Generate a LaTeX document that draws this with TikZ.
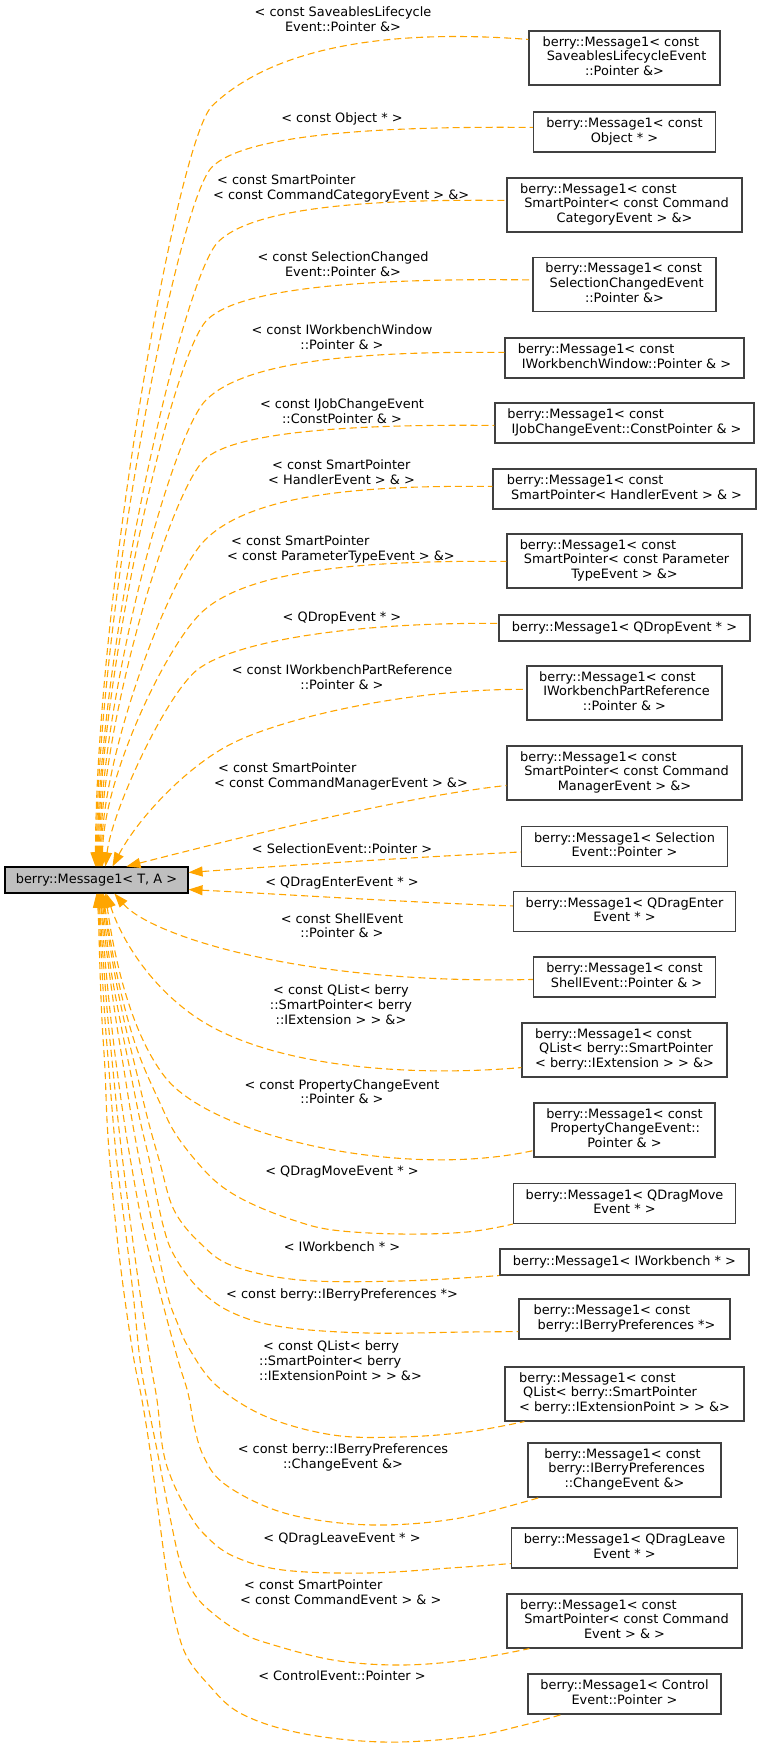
\documentclass[tikz,border=0pt]{standalone}
\usepackage{fontspec}
\setmainfont{DejaVu Sans}
\usetikzlibrary{arrows.meta}
\definecolor{edgeorange}{HTML}{FFA500}
\definecolor{boxgrey}{HTML}{404040}
\definecolor{mainfill}{HTML}{BFBFBF}
\newcommand\lcen[1]{\begin{tabular}{@{}c@{}}#1\end{tabular}}
\newcommand\lleft[1]{\begin{tabular}{@{}l@{}}#1\end{tabular}}
\newcommand\bxt[2]{\begin{tabular}{@{}l@{}}#1\\\multicolumn{1}{@{}c@{}}{#2}\end{tabular}}
\begin{document}
\begin{tikzpicture}[x=1pt,y=-1pt,font=\fontsize{12.9}{14.6}\selectfont,
  cls/.style={draw=boxgrey,line width=1.1pt,fill=white,inner sep=0pt},
  base/.style={draw=black,line width=1.1pt,fill=mainfill,inner sep=0pt},
  lbl/.style={inner sep=0pt},
  inh/.style={draw=edgeorange,line width=1.1pt,dash pattern=on 7pt off 4pt,arrows={Triangle[length=14pt,width=10pt]-}}]
\useasboundingbox (0,0) rectangle (757,1747);

% main node
\node[base,minimum width=183pt,minimum height=26pt] (m) at (96.5,880) {berry::Message1< T, A >};

% instances
\node[cls,minimum width=191pt,minimum height=54pt] (c1) at (624.5,58) {\bxt{berry::Message1< const\\\ SaveablesLifecycleEvent}{::Pointer \&>}};
\node[cls,minimum width=182pt,minimum height=40pt] (c2) at (624.5,132) {\bxt{berry::Message1< const}{Object * >}};
\node[cls,minimum width=235pt,minimum height=54pt] (c3) at (624.5,205) {\bxt{berry::Message1< const\\\ SmartPointer< const Command}{CategoryEvent > \&>}};
\node[cls,minimum width=183pt,minimum height=54pt] (c4) at (624.5,284.5) {\bxt{berry::Message1< const\\\ SelectionChangedEvent}{::Pointer \&>}};
\node[cls,minimum width=239pt,minimum height=40pt] (c5) at (624.5,358) {\bxt{berry::Message1< const}{\ IWorkbenchWindow::Pointer \& >}};
\node[cls,minimum width=259pt,minimum height=40pt] (c6) at (624.5,423) {\bxt{berry::Message1< const}{\ IJobChangeEvent::ConstPointer \& >}};
\node[cls,minimum width=263pt,minimum height=40pt] (c7) at (624.5,489) {\bxt{berry::Message1< const}{\ SmartPointer< HandlerEvent > \& >}};
\node[cls,minimum width=235pt,minimum height=54pt] (c8) at (624.5,561) {\bxt{berry::Message1< const\\\ SmartPointer< const Parameter}{TypeEvent > \&>}};
\node[cls,minimum width=251pt,minimum height=26pt] (c9) at (624.5,628) {berry::Message1< QDropEvent * >};
\node[cls,minimum width=195pt,minimum height=54pt] (c10) at (624.5,693) {\bxt{berry::Message1< const\\\ IWorkbenchPartReference}{::Pointer \& >}};
\node[cls,minimum width=235pt,minimum height=54pt] (c11) at (624.5,773) {\bxt{berry::Message1< const\\\ SmartPointer< const Command}{ManagerEvent > \&>}};
\node[cls,minimum width=206pt,minimum height=40pt] (c12) at (624.5,846.5) {\bxt{berry::Message1< Selection}{Event::Pointer >}};
\node[cls,minimum width=222pt,minimum height=40pt] (c13) at (624.5,911.5) {\bxt{berry::Message1< QDragEnter}{Event * >}};
\node[cls,minimum width=182pt,minimum height=40pt] (c14) at (624.5,977) {\bxt{berry::Message1< const}{\ ShellEvent::Pointer \& >}};
\node[cls,minimum width=205pt,minimum height=54pt] (c15) at (624.5,1050) {\bxt{berry::Message1< const\\\ QList< berry::SmartPointer}{< berry::IExtension > > \&>}};
\node[cls,minimum width=181pt,minimum height=54pt] (c16) at (624.5,1130) {\bxt{berry::Message1< const\\\ PropertyChangeEvent::}{Pointer \& >}};
\node[cls,minimum width=222pt,minimum height=40pt] (c17) at (624.5,1203.5) {\bxt{berry::Message1< QDragMove}{Event * >}};
\node[cls,minimum width=249pt,minimum height=26pt] (c18) at (624.5,1262) {berry::Message1< IWorkbench * >};
\node[cls,minimum width=211pt,minimum height=40pt] (c19) at (624.5,1319) {\bxt{berry::Message1< const}{\ berry::IBerryPreferences *>}};
\node[cls,minimum width=239pt,minimum height=54pt] (c20) at (624.5,1394) {\bxt{berry::Message1< const\\\ QList< berry::SmartPointer}{< berry::IExtensionPoint > > \&>}};
\node[cls,minimum width=193pt,minimum height=54pt] (c21) at (624.5,1470) {\bxt{berry::Message1< const\\\ berry::IBerryPreferences}{::ChangeEvent \&>}};
\node[cls,minimum width=226pt,minimum height=40pt] (c22) at (624.5,1548) {\bxt{berry::Message1< QDragLeave}{Event * >}};
\node[cls,minimum width=235pt,minimum height=54pt] (c23) at (624.5,1621) {\bxt{berry::Message1< const\\\ SmartPointer< const Command}{Event > \& >}};
\node[cls,minimum width=193pt,minimum height=40pt] (c24) at (624.5,1694) {\bxt{berry::Message1< Control}{Event::Pointer >}};

% top edges
\draw[inh] ([xshift=91pt]m.north west) .. controls (96,600) and (177,141) .. (212,106) .. controls (270,50) and (380,28) .. ([yshift=-9pt]c1.north west);
\draw[inh] ([xshift=92pt]m.north west) .. controls (97,622) and (177,202) .. (212,167) .. controls (245,134) and (382,126) .. ([yshift=-16pt]c2.north west);
\draw[inh] ([xshift=93pt]m.north west) .. controls (98,648) and (183,277) .. (218,242) .. controls (253,207) and (371,199) .. ([yshift=-23pt]c3.north west);
\draw[inh] ([xshift=94pt]m.north west) .. controls (99,676) and (172,355) .. (207,320) .. controls (241,286) and (380,278) .. ([yshift=-23pt]c4.north west);
\draw[inh] ([xshift=95pt]m.north west) .. controls (100,703) and (171,435) .. (206,400) .. controls (246,360) and (365,351) .. ([yshift=-15pt]c5.north west);
\draw[inh] ([xshift=96pt]m.north west) .. controls (101,724) and (169,495) .. (204,460) .. controls (233,431) and (358,424) .. ([yshift=-23pt]c6.north west);
\draw[inh] ([xshift=97pt]m.north west) .. controls (102,752) and (170,575) .. (205,540) .. controls (250,495) and (358,485) .. ([yshift=-18pt]c7.north west);
\draw[inh] ([xshift=98pt]m.north west) .. controls (103,778) and (165,649) .. (200,614) .. controls (244,570) and (363,560) .. ([yshift=-28pt]c8.north west);
\draw[inh] ([xshift=101pt]m.north west) .. controls (112,810) and (166,695) .. (197,670) .. controls (235,640) and (360,622) .. ([yshift=-9pt]c9.north west);
\draw[inh] ([xshift=108pt]m.north west) .. controls (140,815) and (190,764) .. (233,743) .. controls (290,715) and (420,688) .. ([yshift=-24pt]c10.north west);
\draw[inh] ([xshift=122pt]m.north west) .. controls (230,840) and (400,797) .. ([yshift=-40pt]c11.north west);
% side edges
\draw[inh] ([yshift=-6pt]m.north east) .. controls (280,866) and (400,858) .. ([yshift=-26pt]c12.north west);
\draw[inh] ([yshift=4pt]m.south east) .. controls (280,894) and (400,902) .. ([yshift=-15pt]c13.north west);
% bottom edges
\draw[inh] ([xshift=110pt]m.south west) .. controls (150,935) and (300,985) .. ([yshift=-23pt]c14.north west);
\draw[inh] ([xshift=102pt]m.south west) .. controls (120,935) and (145,980) .. (190,1013) .. controls (260,1065) and (400,1078) .. ([yshift=10pt]c15.south west);
\draw[inh] ([xshift=101pt]m.south west) .. controls (113,950) and (129,1031) .. (165,1077) .. controls (210,1135) and (400,1180) .. ([yshift=7pt]c16.south west);
\draw[inh] plot[smooth,tension=0.6] coordinates {([xshift=99pt]m.south west) (107,920) (116,970) (128,1020) (141,1060) (160,1103) (175,1133) (197,1162) (220,1185) (250,1203) (293,1220) (333,1230) (400,1234) (467,1232) (c17.south west)};
\draw[inh] plot[smooth,tension=0.6] coordinates {([xshift=98pt]m.south west) (106,920) (114,970) (124,1020) (136,1070) (148,1120) (160,1163) (174,1210) (200,1243) (233,1266) (300,1280) (400,1281) (c18.south west)};
\draw[inh] plot[smooth,tension=0.6] coordinates {([xshift=97pt]m.south west) (104.5,920) (111,970) (120,1020) (130,1070) (140,1120) (150,1163) (163,1225) (175,1257) (200,1290) (233,1313) (283,1327) (367,1333) (467,1332) ([yshift=8pt]c19.south west)};
\draw[inh] plot[smooth,tension=0.6] coordinates {([xshift=96pt]m.south west) (103,920) (109,970) (116,1020) (124,1070) (132,1120) (140,1163) (153,1227) (167,1293) (177,1322) (190,1350) (217,1386) (267,1417) (333,1435) (400,1437) (467,1432) ([xshift=20pt]c20.south west)};
\draw[inh] plot[smooth,tension=0.6] coordinates {([xshift=95pt]m.south west) (102,920) (106,970) (111,1020) (117,1070) (124,1120) (131,1163) (143,1227) (160,1293) (178,1360) (188,1393) (194,1425) (203,1455) (222,1482) (267,1507) (317,1520) (383,1525) (460,1518) ([xshift=12pt]c21.south west)};
\draw[inh] plot[smooth,tension=0.6] coordinates {([xshift=94pt]m.south west) (100.5,920) (104,970) (108,1020) (113,1070) (118,1120) (123,1163) (131,1227) (140,1293) (150,1360) (157,1400) (163,1450) (172,1480) (188,1512) (205,1535) (233,1556) (283,1570) (367,1573) (450,1568) ([yshift=5pt]c22.south west)};
\draw[inh] plot[smooth,tension=0.6] coordinates {([xshift=93pt]m.south west) (99.5,920) (102,970) (105,1020) (109,1070) (113,1120) (117,1163) (125,1227) (133,1293) (140,1360) (147,1400) (157,1450) (170,1517) (181,1565) (195,1595) (215,1615) (240,1632) (267,1643) (333,1660) (400,1665) (467,1660) ([xshift=23pt]c23.south west)};
\draw[inh] plot[smooth,tension=0.6] coordinates {([xshift=92pt]m.south west) (98.5,920) (100,970) (102,1020) (105,1070) (107,1120) (110,1163) (116,1227) (124,1293) (134,1360) (142,1400) (150,1450) (159,1517) (168,1583) (175,1620) (186,1655) (207,1683) (240,1713) (300,1733) (383,1742) (467,1737) (520,1726) ([xshift=34pt]c24.south west)};

% labels
\node[lbl] (l1) at (343,21) {\lcen{< const SaveablesLifecycle\\Event::Pointer \&>}};
\node[lbl] (l2) at (342,119.5) {\lcen{< const Object * >}};
\node[lbl,anchor=west] (l3) at (213,189) {\lleft{\hspace{4pt}< const SmartPointer\\< const CommandCategoryEvent > \&>}};
\node[lbl] (l4) at (343,266) {\lcen{< const SelectionChanged\\Event::Pointer \&>}};
\node[lbl] (l5) at (342,339) {\lcen{< const IWorkbenchWindow\\::Pointer \& >}};
\node[lbl] (l6) at (342,413) {\lcen{< const IJobChangeEvent\\::ConstPointer \& >}};
\node[lbl,anchor=west] (l7) at (268,474) {\lleft{\hspace{4pt}< const SmartPointer\\< HandlerEvent > \& >}};
\node[lbl,anchor=west] (l8) at (227,550) {\lleft{\hspace{4pt}< const SmartPointer\\< const ParameterTypeEvent > \&>}};
\node[lbl] (l9) at (342,618.5) {\lcen{< QDropEvent * >}};
\node[lbl] (l10) at (342,679) {\lcen{< const IWorkbenchPartReference\\::Pointer \& >}};
\node[lbl,anchor=west] (l11) at (214,777) {\lleft{\hspace{4pt}< const SmartPointer\\< const CommandManagerEvent > \&>}};
\node[lbl] (l12) at (342,850.5) {\lcen{< SelectionEvent::Pointer >}};
\node[lbl] (l13) at (342,883.5) {\lcen{< QDragEnterEvent * >}};
\node[lbl] (l14) at (342,927.5) {\lcen{< const ShellEvent\\::Pointer \& >}};
\node[lbl] (l15) at (341,1006.5) {\lcen{< const QList< berry\\::SmartPointer< berry\\::IExtension > > \&>}};
\node[lbl] (l16) at (342,1093.5) {\lcen{< const PropertyChangeEvent\\::Pointer \& >}};
\node[lbl] (l17) at (342,1172.5) {\lcen{< QDragMoveEvent * >}};
\node[lbl] (l18) at (342,1248.5) {\lcen{< IWorkbench * >}};
\node[lbl] (l19) at (342,1295.5) {\lcen{< const berry::IBerryPreferences *>}};
\node[lbl,anchor=west] (l20) at (259,1362.5) {\lleft{\hspace{4pt}< const QList< berry\\::SmartPointer< berry\\::IExtensionPoint > > \&>}};
\node[lbl] (l21) at (343,1458) {\lcen{< const berry::IBerryPreferences\\::ChangeEvent \&>}};
\node[lbl] (l22) at (342,1539.5) {\lcen{< QDragLeaveEvent * >}};
\node[lbl,anchor=west] (l23) at (240,1594) {\lleft{\hspace{4pt}< const SmartPointer\\< const CommandEvent > \& >}};
\node[lbl] (l24) at (342,1677.5) {\lcen{< ControlEvent::Pointer >}};
\end{tikzpicture}
\end{document}
